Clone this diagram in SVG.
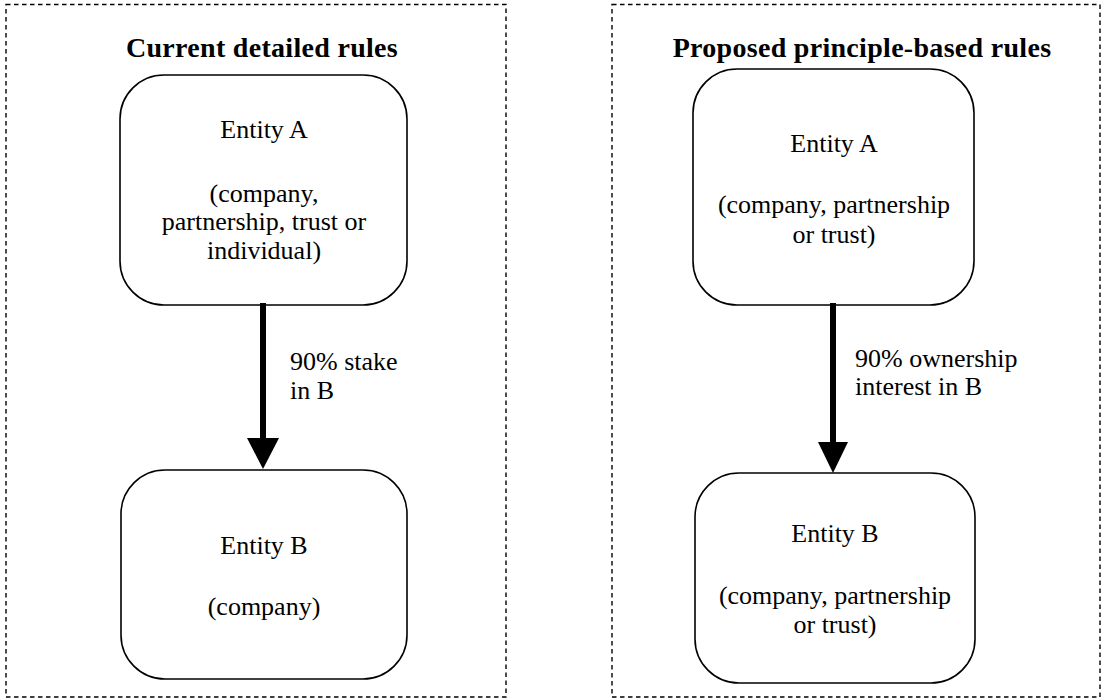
<svg xmlns="http://www.w3.org/2000/svg" width="1114" height="700" viewBox="0 0 1114 700">
  <style>
    .frame { fill: none; stroke: #000; stroke-width: 1.4; stroke-dasharray: 4.5 3.5; }
    .node { fill: #fff; stroke: #000; stroke-width: 1.6; }
    .title { font-family: "Liberation Serif", "Times New Roman", serif; font-size: 28px; font-weight: bold; letter-spacing: 0.3px; fill: #000; text-anchor: middle; }
    .label { font-family: "Liberation Serif", "Times New Roman", serif; font-size: 26px; fill: #000; text-anchor: middle; }
    .edge-label { font-family: "Liberation Serif", "Times New Roman", serif; font-size: 26px; fill: #000; }
    .shaft { stroke: #000; stroke-width: 6; fill: none; }
    .head { fill: #000; stroke: none; }
  </style>

  <!-- panel frames -->
  <g id="panel-current">
    <rect class="frame" x="6" y="4.5" width="500" height="692.5"/>
    <text class="title" x="262" y="57">Current detailed rules</text>
  </g>
  <g id="panel-proposed">
    <rect class="frame" x="612" y="4.5" width="488" height="692.5"/>
    <text class="title" x="862" y="57">Proposed principle-based rules</text>
  </g>

  <!-- left panel nodes -->
  <g id="current-entity-a">
    <rect class="node" x="120" y="75" width="287" height="230" rx="44" ry="44"/>
    <text class="label" x="264" y="138">Entity A</text>
    <text class="label" x="264" y="202">(company,</text>
    <text class="label" x="264" y="230">partnership, trust or</text>
    <text class="label" x="264" y="259">individual)</text>
  </g>
  <g id="current-entity-b">
    <rect class="node" x="121" y="470" width="286" height="209" rx="44" ry="44"/>
    <text class="label" x="264" y="554">Entity B</text>
    <text class="label" x="264" y="615">(company)</text>
  </g>

  <!-- right panel nodes -->
  <g id="proposed-entity-a">
    <rect class="node" x="693" y="69" width="281" height="236" rx="44" ry="44"/>
    <text class="label" x="834" y="152">Entity A</text>
    <text class="label" x="834" y="213">(company, partnership</text>
    <text class="label" x="834" y="243">or trust)</text>
  </g>
  <g id="proposed-entity-b">
    <rect class="node" x="695" y="473" width="280" height="210" rx="44" ry="44"/>
    <text class="label" x="835" y="542">Entity B</text>
    <text class="label" x="835" y="604">(company, partnership</text>
    <text class="label" x="835" y="633">or trust)</text>
  </g>

  <!-- connectors -->
  <g id="connectors">
    <g id="current-a-to-b">
      <line class="shaft" x1="263" y1="303" x2="263" y2="441"/>
      <polygon class="head" points="247,438 279,438 263,469"/>
      <text class="edge-label" x="290" y="370">90% stake</text>
      <text class="edge-label" x="290" y="399">in B</text>
    </g>
    <g id="proposed-a-to-b">
      <line class="shaft" x1="833" y1="303" x2="833" y2="445"/>
      <polygon class="head" points="818,442 848,442 833,473"/>
      <text class="edge-label" x="855" y="367">90% ownership</text>
      <text class="edge-label" x="855" y="395">interest in B</text>
    </g>
  </g>
</svg>
